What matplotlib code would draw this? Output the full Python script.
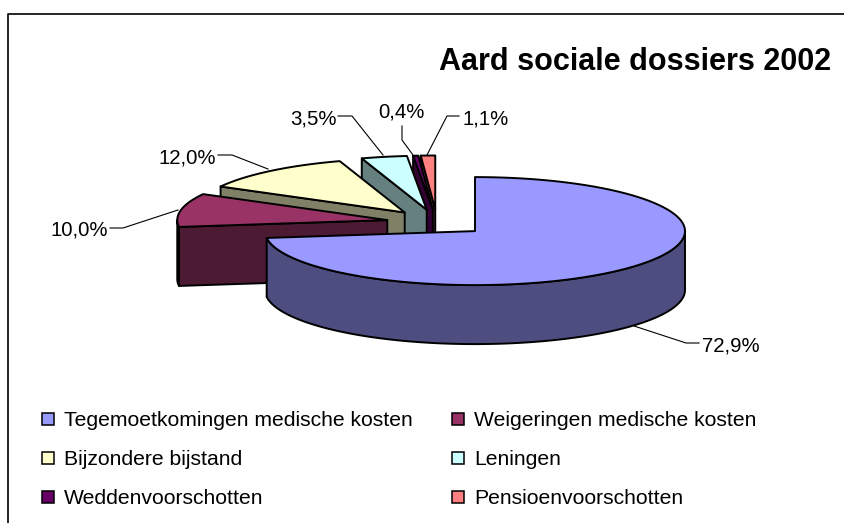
"""Exploded 3D pie of social dossiers, drawn in pixel coordinates."""

import numpy as np
import matplotlib
matplotlib.use("Agg")
import matplotlib.pyplot as plt
from matplotlib.colors import to_rgb
from matplotlib.patches import Polygon, Rectangle

plt.rcParams["font.family"] = ["Liberation Sans", "DejaVu Sans"]

# ── Data ──────────────────────────────────────────────────────────────────
TITLE = "Aard sociale dossiers 2002"
names = [
    "Tegemoetkomingen medische kosten",
    "Weigeringen medische kosten",
    "Bijzondere bijstand",
    "Leningen",
    "Weddenvoorschotten",
    "Pensioenvoorschotten",
]
shares = [72.9, 10.0, 12.0, 3.5, 0.4, 1.1]
colors = ["#9999FF", "#993366", "#FFFFCC", "#CCFFFF", "#660066", "#FF8080"]

# ── Layout (pixels) ───────────────────────────────────────────────────────
W, H = 844, 523
CX, CY = 437, 222.5
RX, RY = 210, 54
DEPTH = 59
EXPLODE = 0.241
EDGE = 1.4

# leader polylines and label anchors, same order as the data
leaders = [
    [(634, 326), (686, 343), (699, 343)],
    [(178, 210), (123, 228), (110, 228)],
    [(268, 169), (232, 155), (218, 155)],
    [(383, 155), (352, 116), (338, 116)],
    [(413, 155), (402, 140), (402, 126)],
    [(427, 155), (447, 116), (459, 116)],
]
label_pos = [(702, 346), (50, 230), (158, 158), (290, 119), (378, 112), (463, 119)]

legend_x = [42, 452]
legend_y = [419, 458, 497]


def point(apex, theta, depth=0):
    """Rim point at angle theta (degrees clockwise from the top)."""
    t = np.radians(theta)
    return (apex[0] + RX * np.sin(t), apex[1] - RY * np.cos(t) + depth)


def shade(color):
    return tuple(c * 0.5 for c in to_rgb(color))


def add_poly(ax, pts, color, z):
    ax.add_patch(Polygon(pts, closed=True, facecolor=color, edgecolor="black",
                         linewidth=EDGE, joinstyle="round", zorder=z))


def draw_slice(ax, start, end, color, z):
    mid = np.radians((start + end) / 2)
    apex = (CX + EXPLODE * RX * np.sin(mid), CY - EXPLODE * RY * np.cos(mid))
    dark = shade(color)

    # cut face on the start edge, only when it looks towards the viewer
    if np.sin(np.radians(start)) < 0:
        p = point(apex, start)
        add_poly(ax, [apex, p, (p[0], p[1] + DEPTH), (apex[0], apex[1] + DEPTH)], dark, z)

    # outer wall, front half of the rim only
    lo, hi = max(start, 90), min(end, 270)
    if hi > lo:
        arc = np.linspace(lo, hi, 120)
        top = [point(apex, a) for a in arc]
        bottom = [point(apex, a, DEPTH) for a in arc[::-1]]
        add_poly(ax, top + bottom, dark, z)

    # top surface
    arc = np.linspace(start, end, 200)
    add_poly(ax, [apex] + [point(apex, a) for a in arc], color, z + 0.5)


fig = plt.figure(figsize=(W / 100, H / 100), dpi=100, facecolor="white")
ax = fig.add_axes([0, 0, 1, 1])
ax.set_xlim(0, W)
ax.set_ylim(H, 0)
ax.axis("off")

# chart frame, cropped at the right and bottom of the picture
ax.plot([8, 8, W], [H, 14, 14], color="black", linewidth=1.2, zorder=1)

ax.text(439, 62, TITLE, fontsize=22, fontweight="bold", va="center", ha="left")

# ── Slices, back to front ─────────────────────────────────────────────────
edges = np.concatenate([[0], np.cumsum(shares)]) / sum(shares) * 360
for i in range(len(shares) - 1, -1, -1):
    draw_slice(ax, edges[i], edges[i + 1], colors[i], z=10 + (len(shares) - i))

# ── Data labels ───────────────────────────────────────────────────────────
for share, line, pos in zip(shares, leaders, label_pos):
    xs, ys = zip(*line)
    ax.plot(xs, ys, color="black", linewidth=0.8, zorder=30)
    label = f"{share:.1f}".replace(".", ",") + "%"
    ax.text(pos[0], pos[1], label, fontsize=14.7, va="center", ha="left", zorder=31)

# ── Legend ────────────────────────────────────────────────────────────────
for i, (name, color) in enumerate(zip(names, colors)):
    x = legend_x[i % 2]
    y = legend_y[i // 2]
    ax.add_patch(Rectangle((x, y - 6), 12, 12, facecolor=color, edgecolor="black",
                           linewidth=1.1, zorder=5))
    ax.text(x + 22, y + 1.5, name, fontsize=15.2, va="center", ha="left")

fig.savefig("out.png", dpi=100, facecolor="white")
plt.close(fig)
